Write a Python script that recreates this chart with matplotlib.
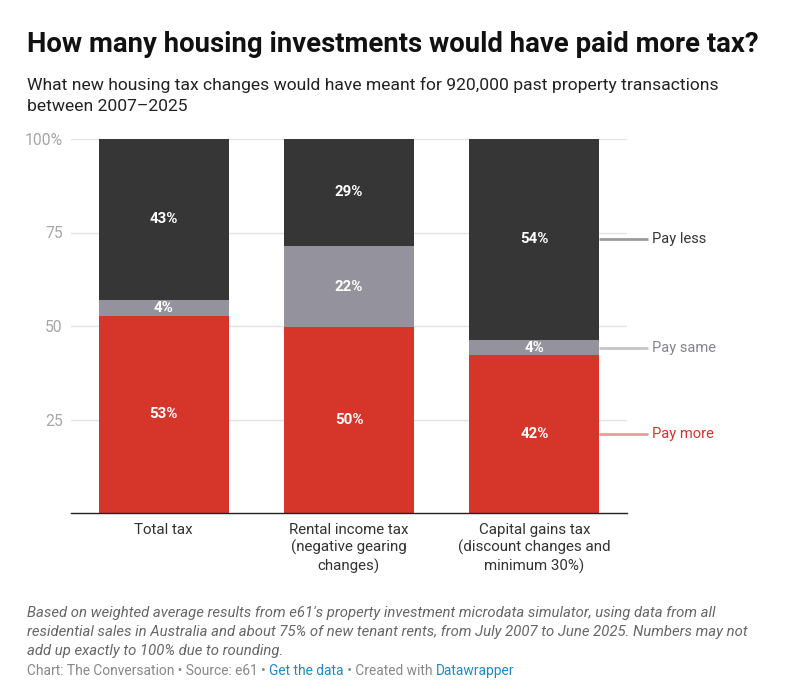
import matplotlib.pyplot as plt
import numpy as np

plt.rcParams["font.family"] = ["Roboto", "DejaVu Sans"]

categories = [
    "Total tax",
    "Rental income tax\n(negative gearing\nchanges)",
    "Capital gains tax\n(discount changes and\nminimum 30%)",
]
pay_more = [52.7, 49.6, 42.2]
pay_same = [4.3, 21.8, 4.1]
pay_less = [43.0, 28.6, 53.7]
series_names = ["Pay more", "Pay same", "Pay less"]
yticks = [25, 50, 75, 100]
ytick_labels = ["25", "50", "75", "100%"]

colors = ["#d6352a", "#94939d", "#363636"]
line_colors = ["#eb9c98", "#c4c3c8", "#9a9a9a"]
text_colors = ["#d6352a", "#85848e", "#363636"]

fig = plt.figure(figsize=(7.92, 6.99), dpi=100)
W, H = 792, 699
ax = fig.add_axes([71 / W, 1 - 513 / H, (627 - 71) / W, (513 - 139) / H])

x = np.arange(len(categories))
bottom = np.zeros(len(categories))
for vals, col in zip([pay_more, pay_same, pay_less], colors):
    vals = np.array(vals)
    ax.bar(x, vals, width=0.7, bottom=bottom, color=col, zorder=2)
    for xi, b, v in zip(x, bottom, vals):
        ax.text(xi, b + v / 2, f"{round(v)}%", ha="center", va="center",
                color="white", fontsize=10.8, fontweight="bold", zorder=3)
    bottom = bottom + vals

ax.set_xlim(-0.5, 2.5)
ax.set_ylim(0, 100)
ax.set_yticks(yticks)
ax.set_yticklabels(ytick_labels)
ax.yaxis.grid(True, color="#e3e3e3", linewidth=1, zorder=0)
ax.set_axisbelow(True)
for s in ["top", "right", "left"]:
    ax.spines[s].set_visible(False)
ax.spines["bottom"].set_color("#222222")
ax.spines["bottom"].set_linewidth(1)
ax.spines["bottom"].set_zorder(4)
ax.tick_params(axis="y", length=0, pad=6, labelsize=11.3, labelcolor="#a6a6a6")
ax.tick_params(axis="x", length=0, pad=7, labelsize=10.9, labelcolor="#333333")
ax.set_xticks(x)
ax.set_xticklabels(categories, linespacing=1.28, va="top")

# direct labels next to the last bar
last = len(categories) - 1
b = 0
for name, vals, lc, tc in zip(series_names, [pay_more, pay_same, pay_less],
                              line_colors, text_colors):
    mid = b + vals[last] / 2
    b += vals[last]
    ax.plot([last + 0.35, last + 0.615], [mid, mid], color=lc, linewidth=2,
            clip_on=False, solid_capstyle="butt", zorder=3)
    ax.text(last + 0.635, mid, name, ha="left", va="center", color=tc,
            fontsize=10.6)

fig.text(27 / W, 1 - 45 / H, "How many housing investments would have paid more tax?",
         fontsize=19.8, fontweight="bold", color="#111111", va="center")
fig.text(27 / W, 1 - 95.5 / H,
         "What new housing tax changes would have meant for 920,000 past property transactions\nbetween 2007\u20132025",
         fontsize=12.6, color="#222222", va="center", linespacing=1.42)
fig.text(27 / W, 1 - 632 / H,
         "Based on weighted average results from e61's property investment microdata simulator, using data from all\n"
         "residential sales in Australia and about 75% of new tenant rents, from July 2007 to June 2025. Numbers may not\n"
         "add up exactly to 100% due to rounding.",
         fontsize=10.7, style="italic", color="#666666", va="center", linespacing=1.42)

# footer line with mixed colours
parts = [("Chart: The Conversation \u2022 Source: e61 \u2022 ", "#888888"),
         ("Get the data", "#1a8bc9"),
         (" \u2022 Created with ", "#888888"),
         ("Datawrapper", "#1a8bc9")]
fig.canvas.draw()
renderer = fig.canvas.get_renderer()
xpos = 27 / W
for txt, c in parts:
    t = fig.text(xpos, 1 - 671 / H, txt, fontsize=9.9, color=c, va="center")
    bb = t.get_window_extent(renderer=renderer)
    xpos += bb.width / fig.bbox.width

fig.savefig("out.png", dpi=100, facecolor="white")
